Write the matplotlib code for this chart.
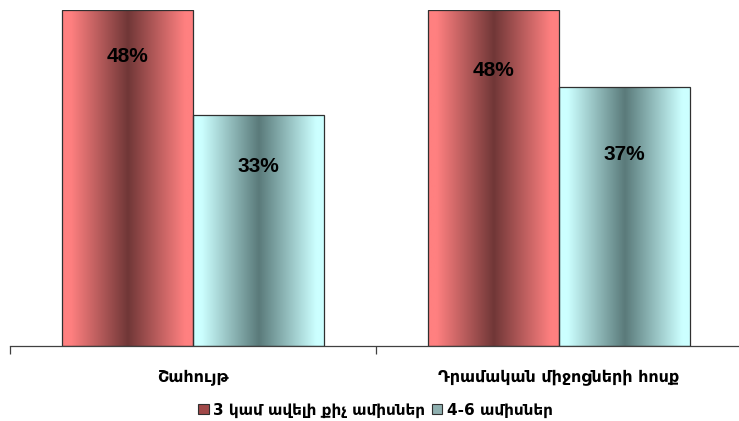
import numpy as np
import matplotlib
matplotlib.use("Agg")
import matplotlib.pyplot as plt
from matplotlib.patches import Patch
from matplotlib.colors import to_rgb

matplotlib.rcParams['font.family'] = ['DejaVu Sans']

# data
categories = ["Շահույթ", "Դրամական միջոցների հոսք"]
series_names = ["3 կամ ավելի քիչ ամիսներ", "4-6 ամիսներ"]
vals_short = [48, 48]
vals_long = [33, 37]

# colours (edge light, centre dark)
red_light, red_dark = "#ff8080", "#703737"
cyan_light, cyan_dark = "#ccffff", "#5a7a7a"

# label drop below bar top (data units), as placed in the original
drop_short = [6.7, 8.6]
drop_long = [7.3, 9.6]


def grad_bar(ax, x0, w, h, light, dark):
    bar = ax.bar(x0, h, width=w, align="edge", facecolor="none",
                 edgecolor="#303030", linewidth=0.9, zorder=3)[0]
    n = 200
    t = np.abs(np.linspace(0, 1, n) - 0.5) * 2
    t = np.clip(t * 1.15, 0, 1)
    c0 = np.array(to_rgb(dark))
    c1 = np.array(to_rgb(light))
    img = c0[None, :] + (c1 - c0)[None, :] * t[:, None]
    im = ax.imshow(img[None, :, :], extent=[x0, x0 + w, 0, h], aspect="auto",
                   interpolation="bilinear", zorder=2)
    im.set_clip_path(bar)
    return bar


fig = plt.figure(figsize=(7.39, 4.21), dpi=100)
ax = fig.add_axes([10 / 739, (421 - 346) / 421, 732 / 739, 336 / 421])

bw = 0.358
for i in range(len(categories)):
    grad_bar(ax, i + 0.5 - bw, bw, vals_short[i], red_light, red_dark)
    grad_bar(ax, i + 0.5, bw, vals_long[i], cyan_light, cyan_dark)
    ax.text(i + 0.5 - bw / 2, vals_short[i] - drop_short[i], f"{vals_short[i]}%",
            ha="center", va="center", fontsize=15, fontweight="bold",
            family="Liberation Sans", zorder=5)
    ax.text(i + 0.5 + bw / 2, vals_long[i] - drop_long[i], f"{vals_long[i]}%",
            ha="center", va="center", fontsize=15, fontweight="bold",
            family="Liberation Sans", zorder=5)

ax.set_xlim(0, 2)
ax.set_ylim(0, 48)
for s in ["top", "right", "left"]:
    ax.spines[s].set_visible(False)
ax.spines["bottom"].set_linewidth(0.9)
ax.spines["bottom"].set_color("#404040")
ax.set_yticks([])
ax.set_xticks([0, 1, 2])
ax.set_xticklabels([])
ax.tick_params(axis="x", length=6, width=0.9, color="#404040")
ax.set_xticks([0.5, 1.5], minor=True)
ax.set_xticklabels(categories, minor=True, fontsize=11.5, fontweight="bold")
ax.tick_params(axis="x", which="minor", length=0, pad=17)

handles = [Patch(facecolor="#a04848", edgecolor="#303030", linewidth=0.8),
           Patch(facecolor="#8fb0b0", edgecolor="#303030", linewidth=0.8)]
fig.legend(handles, series_names, loc="center", bbox_to_anchor=(0.508, 0.026),
           ncol=2, frameon=False, handlelength=0.7,
           handleheight=0.7, handletextpad=0.3, columnspacing=0.4,
           prop={"weight": "bold", "size": 11})

plt.savefig("out.png", dpi=100)
